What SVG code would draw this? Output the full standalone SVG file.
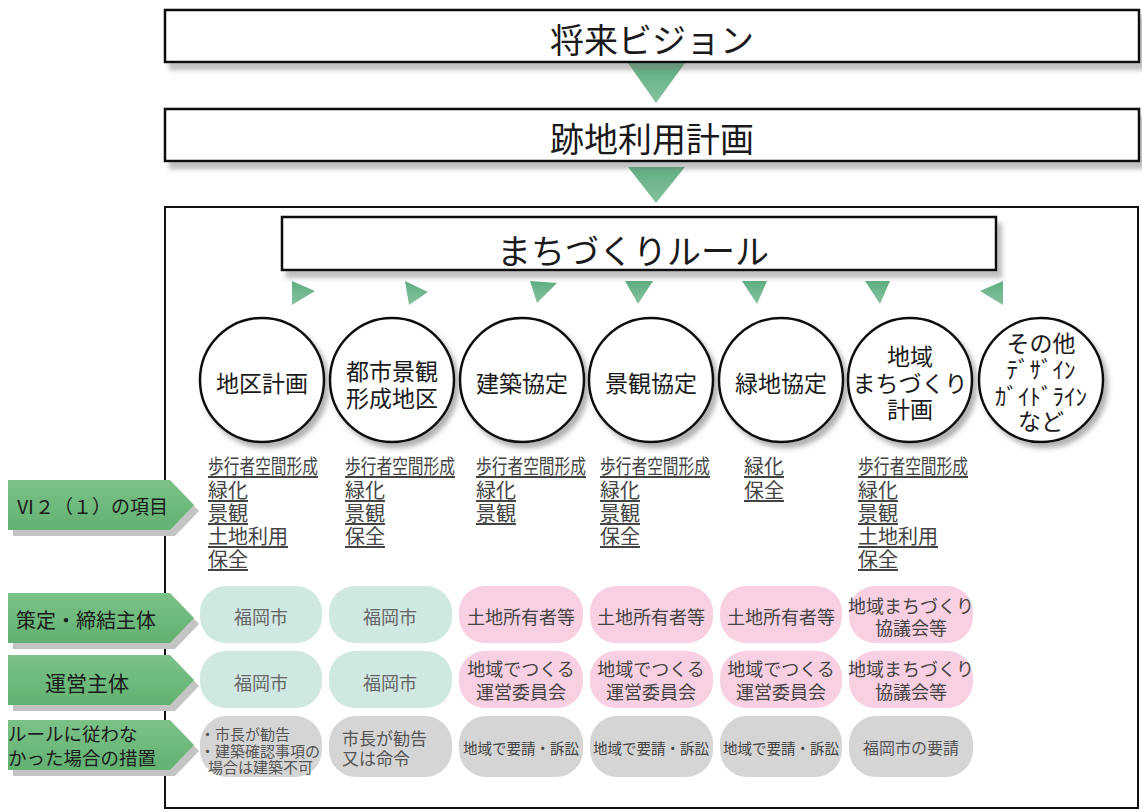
<svg xmlns="http://www.w3.org/2000/svg" width="1142" height="812" viewBox="0 0 1142 812">
<defs>
<style>
.g{font-family:"Noto Sans CJK JP","Noto Sans CJK SC",sans-serif;fill:#1a1a1a;text-anchor:middle;dominant-baseline:central}
.m{font-family:"Noto Sans CJK JP","Noto Sans CJK SC",sans-serif;dominant-baseline:central}
.box{fill:#fff;stroke:#111;stroke-width:2.5}
.circ{fill:#fff;stroke:#111;stroke-width:2.5}
.item{font-size:20px;fill:#444}
.item tspan{text-decoration:underline}
.pt{font-size:18px;text-anchor:middle}
.teal{fill:#d0e8e2}
.pink{fill:#f9d0e1}
.gray{fill:#d5d5d5}
.tri{fill:url(#tg)}
.lab{fill:url(#lg)}
.labsh{fill:#c4c4c4}
</style>
<linearGradient id="tg" x1="0" y1="0" x2="0" y2="1">
<stop offset="0" stop-color="#5fae82"/><stop offset="1" stop-color="#86c29f"/>
</linearGradient>
<linearGradient id="lg" x1="0" y1="0" x2="0" y2="1">
<stop offset="0" stop-color="#7cc288"/><stop offset="1" stop-color="#62b171"/>
</linearGradient>
<filter id="sh" x="-10%" y="-20%" width="130%" height="160%">
<feDropShadow dx="5" dy="7" stdDeviation="2" flood-color="#777" flood-opacity="0.45"/>
</filter>
<filter id="csh" x="-20%" y="-20%" width="150%" height="150%">
<feDropShadow dx="4" dy="5" stdDeviation="2.5" flood-color="#666" flood-opacity="0.5"/>
</filter>
</defs>
<rect width="1142" height="812" fill="#fff"/>

<g id="connectors">
<polygon class="tri" points="628,63 685,63 656,103"/>
<polygon class="tri" points="628,167 685,167 656,203"/>
<polygon class="tri" points="292,281 292,305 315,291"/>
<polygon class="tri" points="405,281 409,305 428,292"/>
<polygon class="tri" points="530,281 557,283 537,303"/>
<polygon class="tri" points="625,281 653,281 638,304"/>
<polygon class="tri" points="742,281 767,281 757,304"/>
<polygon class="tri" points="865,281 890,281 880,304"/>
<polygon class="tri" points="1003,281 1003,305 980,291"/>
</g>

<g id="vision">
<rect class="box" x="165" y="10" width="974" height="52" filter="url(#sh)"/>
<text class="g" x="652" y="38" font-size="34">将来ビジョン</text>
</g>
<g id="atochi">
<rect class="box" x="165" y="109" width="974" height="52" filter="url(#sh)"/>
<text class="g" x="652" y="137" font-size="34">跡地利用計画</text>
</g>
<g id="frame">
<rect x="165" y="207" width="973" height="601" fill="none" stroke="#111" stroke-width="2"/>
</g>
<g id="rule">
<rect class="box" x="282" y="217" width="714" height="53" filter="url(#sh)"/>
<text class="g" x="633" y="249" font-size="34">まちづくりルール</text>
</g>

<g id="c1"><circle class="circ" cx="262" cy="380" r="62" filter="url(#csh)"/>
<text class="g" x="262" y="382" font-size="23">地区計画</text></g>
<g id="c2"><circle class="circ" cx="392" cy="380" r="62" filter="url(#csh)"/>
<text class="g" font-size="23"><tspan x="392" y="370">都市景観</tspan><tspan x="392" y="397">形成地区</tspan></text></g>
<g id="c3"><circle class="circ" cx="522" cy="380" r="62" filter="url(#csh)"/>
<text class="g" x="522" y="382" font-size="23">建築協定</text></g>
<g id="c4"><circle class="circ" cx="651" cy="380" r="62" filter="url(#csh)"/>
<text class="g" x="651" y="382" font-size="23">景観協定</text></g>
<g id="c5"><circle class="circ" cx="781" cy="380" r="62" filter="url(#csh)"/>
<text class="g" x="781" y="382" font-size="23">緑地協定</text></g>
<g id="c6"><circle class="circ" cx="910" cy="380" r="62" filter="url(#csh)"/>
<text class="g" font-size="23"><tspan x="910" y="355">地域</tspan><tspan x="910" y="382">まちづくり</tspan><tspan x="910" y="408">計画</tspan></text></g>
<g id="c7"><circle class="circ" cx="1041" cy="380" r="62" filter="url(#csh)"/>
<text class="g" font-size="23"><tspan x="1041" y="342">その他</tspan><tspan x="1041" y="368">ﾃﾞｻﾞｲﾝ</tspan><tspan x="1041" y="395">ｶﾞｲﾄﾞﾗｲﾝ</tspan><tspan x="1041" y="420">など</tspan></text></g>

<g id="items1"><text class="m item"><tspan x="208" y="465" textLength="110" lengthAdjust="spacingAndGlyphs">歩行者空間形成</tspan><tspan x="208" y="489">緑化</tspan><tspan x="208" y="512">景観</tspan><tspan x="208" y="535">土地利用</tspan><tspan x="208" y="558">保全</tspan></text></g>
<g id="items2"><text class="m item"><tspan x="345" y="465" textLength="110" lengthAdjust="spacingAndGlyphs">歩行者空間形成</tspan><tspan x="345" y="489">緑化</tspan><tspan x="345" y="512">景観</tspan><tspan x="345" y="535">保全</tspan></text></g>
<g id="items3"><text class="m item"><tspan x="476" y="465" textLength="110" lengthAdjust="spacingAndGlyphs">歩行者空間形成</tspan><tspan x="476" y="489">緑化</tspan><tspan x="476" y="512">景観</tspan></text></g>
<g id="items4"><text class="m item"><tspan x="600" y="465" textLength="110" lengthAdjust="spacingAndGlyphs">歩行者空間形成</tspan><tspan x="600" y="489">緑化</tspan><tspan x="600" y="512">景観</tspan><tspan x="600" y="535">保全</tspan></text></g>
<g id="items5"><text class="m item"><tspan x="744" y="465">緑化</tspan><tspan x="744" y="489">保全</tspan></text></g>
<g id="items6"><text class="m item"><tspan x="858" y="465" textLength="110" lengthAdjust="spacingAndGlyphs">歩行者空間形成</tspan><tspan x="858" y="489">緑化</tspan><tspan x="858" y="512">景観</tspan><tspan x="858" y="535">土地利用</tspan><tspan x="858" y="558">保全</tspan></text></g>

<g id="lab1">
<polygon class="labsh" points="13,486 175,486 199,511 175,536 13,536"/>
<polygon class="lab" points="8,480 170,480 194,505 170,530 8,530"/>
<text class="g" x="92" y="505" font-size="19">Ⅵ２（１）の項目</text>
</g>
<g id="lab2">
<polygon class="labsh" points="13,599 175,599 199,624 175,649 13,649"/>
<polygon class="lab" points="8,593 170,593 194,618 170,643 8,643"/>
<text class="g" x="86" y="619" font-size="20">策定・締結主体</text>
</g>
<g id="lab3">
<polygon class="labsh" points="13,661 175,661 199,686 175,711 13,711"/>
<polygon class="lab" points="8,655 170,655 194,680 170,705 8,705"/>
<text class="g" x="87" y="682" font-size="21">運営主体</text>
</g>
<g id="lab4">
<polygon class="labsh" points="13,726 175,726 199,751 175,776 13,776"/>
<polygon class="lab" points="8,720 170,720 194,745 170,770 8,770"/>
<text class="g" font-size="18.5" style="text-anchor:start"><tspan x="8" y="733">ルールに従わな</tspan><tspan x="8" y="757">かった場合の措置</tspan></text>
</g>

<g id="p1-1"><rect class="teal" x="200" y="586" width="122" height="57" rx="26"/><text class="m pt" x="261" y="616" fill="#666">福岡市</text></g>
<g id="p1-2"><rect class="teal" x="329" y="586" width="123" height="57" rx="26"/><text class="m pt" x="390" y="616" fill="#666">福岡市</text></g>
<g id="p1-3"><rect class="pink" x="459" y="586" width="124" height="57" rx="26"/><text class="m pt" x="521" y="616" fill="#444">土地所有者等</text></g>
<g id="p1-4"><rect class="pink" x="590" y="586" width="123" height="57" rx="26"/><text class="m pt" x="651" y="616" fill="#444">土地所有者等</text></g>
<g id="p1-5"><rect class="pink" x="720" y="586" width="122" height="57" rx="26"/><text class="m pt" x="781" y="616" fill="#444">土地所有者等</text></g>
<g id="p1-6"><rect class="pink" x="849" y="586" width="124" height="57" rx="26"/><text class="m pt" fill="#444"><tspan x="911" y="605">地域まちづくり</tspan><tspan x="911" y="627">協議会等</tspan></text></g>

<g id="p2-1"><rect class="teal" x="200" y="651" width="122" height="57" rx="26"/><text class="m pt" x="261" y="682" fill="#666">福岡市</text></g>
<g id="p2-2"><rect class="teal" x="329" y="651" width="123" height="57" rx="26"/><text class="m pt" x="390" y="682" fill="#666">福岡市</text></g>
<g id="p2-3"><rect class="pink" x="459" y="651" width="124" height="57" rx="26"/><text class="m pt" fill="#444"><tspan x="521" y="668">地域でつくる</tspan><tspan x="521" y="691">運営委員会</tspan></text></g>
<g id="p2-4"><rect class="pink" x="590" y="651" width="123" height="57" rx="26"/><text class="m pt" fill="#444"><tspan x="651" y="668">地域でつくる</tspan><tspan x="651" y="691">運営委員会</tspan></text></g>
<g id="p2-5"><rect class="pink" x="720" y="651" width="122" height="57" rx="26"/><text class="m pt" fill="#444"><tspan x="781" y="668">地域でつくる</tspan><tspan x="781" y="691">運営委員会</tspan></text></g>
<g id="p2-6"><rect class="pink" x="849" y="651" width="124" height="57" rx="26"/><text class="m pt" fill="#444"><tspan x="911" y="668">地域まちづくり</tspan><tspan x="911" y="691">協議会等</tspan></text></g>

<g id="p3-1"><rect class="gray" x="200" y="716" width="122" height="61" rx="27"/>
<text class="m" font-size="15" fill="#555"><tspan x="200" y="733">・市長が勧告</tspan><tspan x="200" y="750">・建築確認事項の</tspan><tspan x="208" y="766">場合は建築不可</tspan></text></g>
<g id="p3-2"><rect class="gray" x="329" y="716" width="123" height="61" rx="27"/>
<text class="m" font-size="17" fill="#555"><tspan x="342" y="737">市長が勧告</tspan><tspan x="342" y="757">又は命令</tspan></text></g>
<g id="p3-3"><rect class="gray" x="459" y="716" width="124" height="61" rx="27"/><text class="m" x="463" y="747" font-size="15" fill="#444" textLength="116" lengthAdjust="spacingAndGlyphs">地域で要請・訴訟</text></g>
<g id="p3-4"><rect class="gray" x="590" y="716" width="123" height="61" rx="27"/><text class="m" x="593" y="747" font-size="15" fill="#444" textLength="116" lengthAdjust="spacingAndGlyphs">地域で要請・訴訟</text></g>
<g id="p3-5"><rect class="gray" x="720" y="716" width="122" height="61" rx="27"/><text class="m" x="723" y="747" font-size="15" fill="#444" textLength="116" lengthAdjust="spacingAndGlyphs">地域で要請・訴訟</text></g>
<g id="p3-6"><rect class="gray" x="849" y="716" width="124" height="61" rx="27"/><text class="m pt" x="911" y="747" fill="#555" style="font-size:16px">福岡市の要請</text></g>
</svg>
